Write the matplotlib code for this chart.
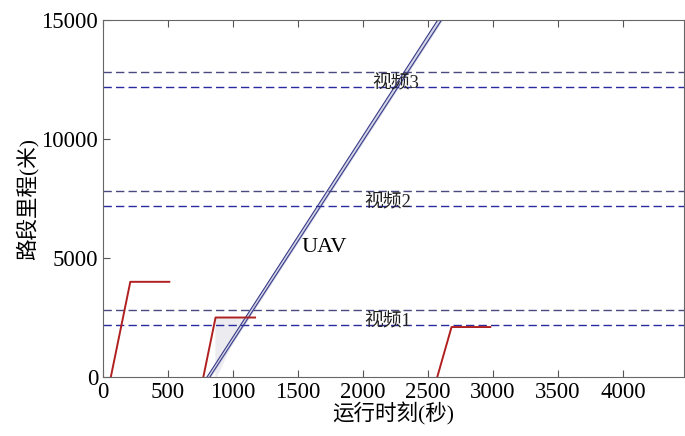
import matplotlib
matplotlib.use("Agg")
import matplotlib.pyplot as plt

plt.rcParams['font.family'] = ['Liberation Serif', 'Noto Sans CJK SC']

# video sections (start, end distance in m)
video_names = ["视频1", "视频2", "视频3"]
video_lo = [2200, 7200, 12200]
video_hi = [2800, 7800, 12800]
video_label_t = [2190, 2190, 2250]

# ground vehicles: time (s) and distance (m)
car_t = [[60, 210, 510], [772, 866, 1170], [2572, 2682, 2980]]
car_d = [[0, 4000, 4000], [0, 2500, 2500], [0, 2100, 2100]]

# UAV trajectory (two parallel edges)
uav_t1 = [800, 2575]
uav_t2 = [822, 2605]
uav_d = [0, 15000]

x_ticks = [0, 500, 1000, 1500, 2000, 2500, 3000, 3500, 4000]
y_ticks = [0, 5000, 10000, 15000]

fig = plt.figure(figsize=(6.85, 4.36), dpi=100)
ax = fig.add_axes([0.1504, 0.1353, 0.848, 0.8187])

for lo, hi, name, lt in zip(video_lo, video_hi, video_names, video_label_t):
    ax.axhline(lo, color="#2a2aa0", linestyle=(0, (6, 3)), linewidth=1.0)
    ax.axhline(hi, color="#4a4a80", linestyle=(0, (6, 3)), linewidth=1.0)
    ax.annotate(name, (lt, (lo + hi) / 2), xytext=(0, -3), textcoords="offset points",
                fontsize=13.5, ha="center", va="center", color="#222222")

# light shading between second vehicle and UAV
ax.fill_between([866, 1080], [2500, 2500], [0, 2500], color="#ececf0", zorder=0)

ax.fill_betweenx(uav_d, uav_t1, uav_t2, color="#d4d7e6", zorder=1)
ax.plot(uav_t1, uav_d, color="#3a3a8a", linewidth=0.8)
ax.plot(uav_t2, uav_d, color="#3a3a8a", linewidth=0.8)
ax.text(1700, 5450, "UAV", fontsize=16, ha="center", va="center")

for t, d in zip(car_t, car_d):
    ax.plot(t, d, color="#b02020", linewidth=1.4)

ax.set_xlim(0, 4470)
ax.set_ylim(0, 15000)
ax.set_xticks(x_ticks)
ax.set_yticks(y_ticks)
ax.tick_params(direction="in", top=True, right=False, labelsize=16.5, length=5, color="#555555")
for s in ax.spines.values():
    s.set_color("#666666")
ax.set_xlabel("运行时刻(秒)", fontsize=15.5, labelpad=0)
ax.set_ylabel("路段里程(米)", fontsize=15.5, labelpad=2)

fig.savefig("out.png", dpi=100)
